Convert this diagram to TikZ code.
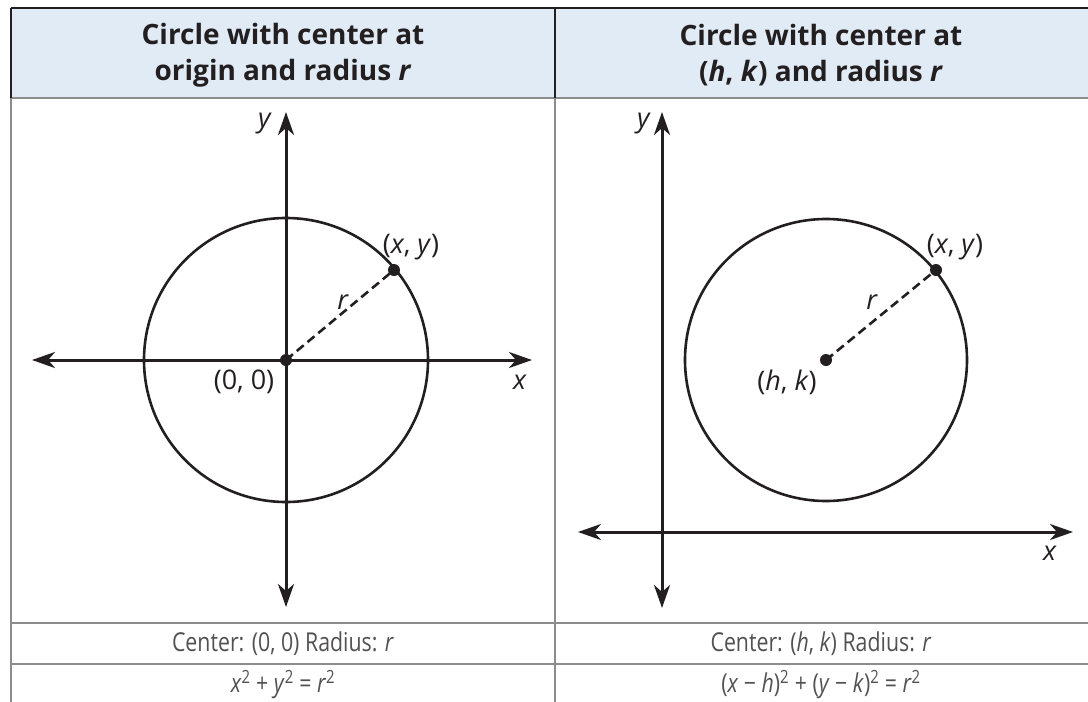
\documentclass[tikz,border=0pt]{standalone}
\usepackage{fontspec}
\setmainfont{Open Sans}
\newfontfamily\condfont[FakeStretch=0.82]{Open Sans}
\usetikzlibrary{arrows.meta}
\definecolor{hdrblue}{HTML}{E1EBF5}
\definecolor{rulegray}{HTML}{8C8C8C}
\definecolor{ink}{HTML}{231F20}
\tikzset{
  axisline/.style ={{Stealth[length=23pt, width=16pt, inset=7pt]}-{Stealth[length=23pt, width=16pt, inset=7pt]}, line width=3pt, draw=ink},
  circline/.style ={line width=2.6pt, draw=ink},
  radline/.style  ={dash pattern=on 9pt off 5pt, line width=2.6pt, draw=ink},
  ptdot/.style    ={circle, fill=ink, inner sep=0pt, minimum size=12pt},
  lbl/.style      ={font=\fontsize{27}{30}\selectfont, text=ink, inner sep=0pt},
  hdr/.style      ={font=\fontsize{28}{36}\selectfont\bfseries, align=center, text=ink},
  captxt/.style   ={font=\condfont\fontsize{26}{30}\selectfont, text=ink!78},
  darkrule/.style ={line width=2.6pt, draw=ink},
  tblrule/.style  ={line width=2.6pt, draw=rulegray},
}
\newcommand{\vr}[1]{\textit{#1}}

\begin{document}
\begin{tikzpicture}[x=1pt, y=-1pt]
  \useasboundingbox (0,0) rectangle (1088,702);

  % ---- table frame ----
  \fill[hdrblue] (11,8) rectangle (1088,98);
  \draw[tblrule] (11,98) -- (1088,98);
  \draw[tblrule] (11,623) -- (1088,623);
  \draw[tblrule] (11,664) -- (1088,664);
  \draw[tblrule] (11,98) -- (11,702);
  \draw[tblrule] (555,98) -- (555,702);
  \draw[darkrule] (11,8) -- (1088,8);
  \draw[darkrule] (11,8) -- (11,98);
  \draw[darkrule] (555,8) -- (555,98);

  % ---- header ----
  \node[hdr] (hl) at (283,55) {Circle with center at\\origin and radius \vr{r}};
  \node[hdr] (hr) at (821,55) {Circle with center at\\(\vr{h}, \vr{k}) and radius \vr{r}};

  % ---- left: center at origin ----
  \coordinate (ly1) at (286,607);
  \coordinate (ly2) at (286,112);
  \coordinate (lx1) at (32,360);
  \coordinate (lx2) at (532,360);
  \draw[axisline] (ly1) -- (ly2);
  \draw[axisline] (lx1) -- (lx2);
  \coordinate (c1) at (286,360);
  \draw[circline] (c1) circle[radius=142];
  \node[ptdot] (o1) at (c1) {};
  \node[ptdot] (p1) at (394,270) {};
  \draw[radline] (o1.center) -- (p1.center);
  \node[lbl] (ylab1) at (265,124) {\vr{y}};
  \node[lbl] (xlab1) at (520,382) {\vr{x}};
  \node[lbl] (plab1) at (411,247) {(\vr{x}, \vr{y})};
  \node[lbl] (rlab1) at (343,302) {\vr{r}};
  \node[lbl] (olab1) at (244,382) {(0, 0)};

  % ---- right: center at (h, k) ----
  \coordinate (ry1) at (662,608);
  \coordinate (ry2) at (662,112);
  \coordinate (rx1) at (578,532);
  \coordinate (rx2) at (1073,532);
  \draw[axisline] (ry1) -- (ry2);
  \draw[axisline] (rx1) -- (rx2);
  \coordinate (c2) at (826,360);
  \draw[circline] (c2) circle[radius=141];
  \node[ptdot] (o2) at (c2) {};
  \node[ptdot] (p2) at (936,270) {};
  \draw[radline] (o2.center) -- (p2.center);
  \node[lbl] (ylab2) at (644,124) {\vr{y}};
  \node[lbl] (xlab2) at (1050,553) {\vr{x}};
  \node[lbl] (plab2) at (955,247) {(\vr{x}, \vr{y})};
  \node[lbl] (rlab2) at (872,302) {\vr{r}};
  \node[lbl] (olab2) at (787,382) {(\vr{h}, \vr{k})};

  % ---- caption rows ----
  \node[captxt] (cl) at (283,644) {Center: (0, 0) Radius: \vr{r}};
  \node[captxt] (cr) at (821,644) {Center: (\vr{h}, \vr{k}) Radius: \vr{r}};
  \node[captxt] (el) at (283,685) {\vr{x}\textsuperscript{2} + \vr{y}\textsuperscript{2} = \vr{r}\textsuperscript{2}};
  \node[captxt] (er) at (821,685) {(\vr{x} − \vr{h})\textsuperscript{2} + (\vr{y} − \vr{k})\textsuperscript{2} = \vr{r}\textsuperscript{2}};
\end{tikzpicture}
\end{document}
